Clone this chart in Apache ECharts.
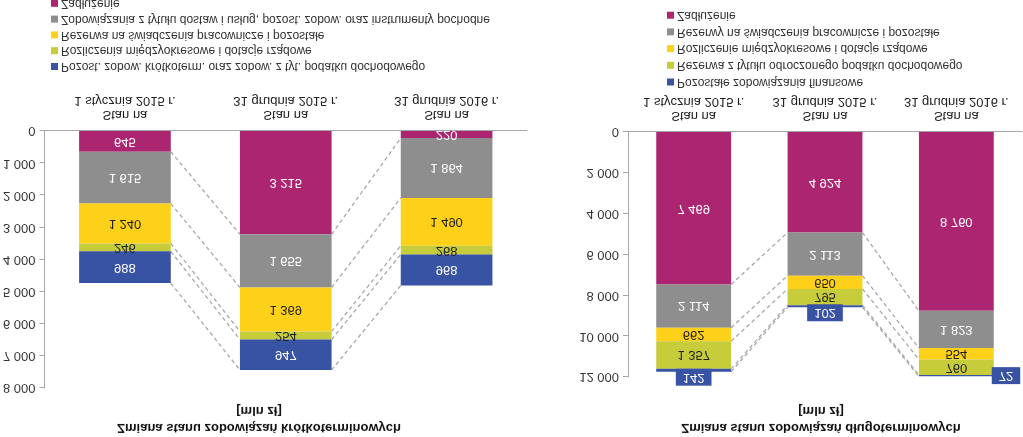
<!DOCTYPE html>
<html>
<head>
<meta charset="utf-8">
<script src="https://cdn.jsdelivr.net/npm/echarts@6/dist/echarts.min.js"></script>
<style>
  html, body { margin: 0; padding: 0; background: #fff; }
  /* the reference picture is flipped upside down, so the whole chart is flipped too */
  #chart { width: 1023px; height: 437px; transform: scaleY(-1); }
</style>
</head>
<body>
<div id="chart"></div>
<script>
// categories (same for both charts)
const categories = ['Stan na\n1 stycznia 2015 r.', 'Stan na\n31 grudnia 2015 r.', 'Stan na\n31 grudnia 2016 r.']

// short-term liabilities [mln zł]
const shortNames = [
  'Zadłużenie',
  'Zobowiązania z tytułu dostaw i usług, pozost. zobow. oraz instrumenty pochodne',
  'Rezerwa na świadczenia pracownicze i pozostałe',
  'Rozliczenia międzyokresowe i dotacje rządowe',
  'Pozost. zobow. krótkoterm. oraz zobow. z tyt. podatku dochodowego'
]
const shortDebt = [645, 3215, 220]
const shortTrade = [1615, 1655, 1864]
const shortReserve = [1240, 1369, 1490]
const shortAccruals = [246, 254, 268]
const shortOther = [988, 947, 968]

// long-term liabilities [mln zł]
const longNames = [
  'Zadłużenie',
  'Rezerwy na świadczenia pracownicze i pozostałe',
  'Rozliczenie międzyokresowe i dotacje rządowe',
  'Rezerwa z tytułu odroczonego podatku dochodowego',
  'Pozostałe zobowiązania finansowe'
]
const longDebt = [7469, 4924, 8760]
const longReserve = [2114, 2113, 1823]
const longAccruals = [662, 650, 554]
const longTax = [1357, 795, 760]
const longOther = [142, 102, 72]

const colors = ['#ab2570', '#8e8e8e', '#fdd01a', '#c6cc3a', '#3953a4']
const labelColors = ['#fff', '#fff', '#222', '#222', '#fff']

const fmt = v => String(v).replace(/\B(?=(\d{3})+(?!\d))/g, ' ')

// dashed connectors between bars at every stack boundary
function connectorData (groups) {
  const out = []
  const cum = categories.map(() => 0)
  groups.forEach(g => {
    g.forEach((v, i) => { cum[i] += v })
    for (let i = 0; i < categories.length - 1; i++) out.push([i, cum[i], cum[i + 1]])
  })
  return out
}

function renderConnector (params, api) {
  const i = api.value(0)
  const p1 = api.coord([i, api.value(1)])
  const p2 = api.coord([i + 1, api.value(2)])
  const half = api.size([1, 0])[0] * 0.57 / 2
  return {
    type: 'line',
    silent: true,
    shape: { x1: p1[0] + half, y1: p1[1], x2: p2[0] - half, y2: p2[1] },
    style: { stroke: '#a8a8a8', lineDash: [4, 3], lineWidth: 1.3 }
  }
}

function barSeries (names, groups, axis, stack, outsideLabels) {
  return groups.map((g, k) => ({
    name: names[k],
    type: 'bar',
    stack: stack,
    xAxisIndex: axis,
    yAxisIndex: axis,
    barWidth: '57%',
    itemStyle: { color: colors[k] },
    label: {
      show: true,
      position: 'inside',
      color: labelColors[k],
      fontSize: 13,
      formatter: p => fmt(p.value)
    },
    data: g.map((v, i) => {
      if (outsideLabels && k === 4) {
        return {
          value: v,
          label: {
            position: i === 2 ? 'right' : 'top',
            distance: i === 2 ? -2 : -3,
            backgroundColor: colors[4],
            padding: [2, 7],
            color: '#fff'
          }
        }
      }
      return v
    })
  }))
}

const shortGroups = [shortDebt, shortTrade, shortReserve, shortAccruals, shortOther]
const longGroups = [longDebt, longReserve, longAccruals, longTax, longOther]

const chart = echarts.init(document.getElementById('chart'))

const axisLine = { lineStyle: { color: '#a6a6a6' } }
const option = {
  animation: false,
  textStyle: { fontFamily: 'Liberation Sans, Arial, sans-serif' },
  title: [
    {
      text: 'Zmiana stanu zobowiązań krótkoterminowych',
      subtext: '[mln zł]',
      left: 254,
      top: -2,
      textAlign: 'center',
      itemGap: 4,
      textStyle: { fontSize: 13, fontWeight: 'bold', color: '#111' },
      subtextStyle: { fontSize: 13, fontWeight: 'bold', color: '#111' }
    },
    {
      text: 'Zmiana stanu zobowiązań długoterminowych',
      subtext: '[mln zł]',
      left: 816,
      top: -2,
      textAlign: 'center',
      itemGap: 4,
      textStyle: { fontSize: 13, fontWeight: 'bold', color: '#111' },
      subtextStyle: { fontSize: 13, fontWeight: 'bold', color: '#111' }
    }
  ],
  legend: [
    {
      orient: 'vertical',
      left: 46,
      top: 359.5,
      height: 120,
      itemWidth: 7,
      itemHeight: 7,
      itemGap: 3.8,
      icon: 'rect',
      data: shortNames.slice().reverse(),
      textStyle: { fontSize: 12, lineHeight: 12, color: '#333', padding: [0, 0, 0, -2] }
    },
    {
      orient: 'vertical',
      left: 662,
      top: 344,
      height: 120,
      itemWidth: 7,
      itemHeight: 7,
      itemGap: 4.7,
      icon: 'rect',
      data: longNames.slice().reverse(),
      textStyle: { fontSize: 12, lineHeight: 12, color: '#333', padding: [0, 0, 0, -2] }
    }
  ],
  grid: [
    { left: 44, top: 49, width: 483, height: 257 },
    { left: 628, top: 60, width: 394, height: 245 }
  ],
  xAxis: [0, 1].map(i => ({
    type: 'category',
    gridIndex: i,
    data: categories,
    axisLine: axisLine,
    axisTick: { lineStyle: { color: '#a6a6a6' }, length: 5 },
    axisLabel: { fontSize: 13, color: '#222', lineHeight: 14, margin: 9, interval: 0 }
  })),
  yAxis: [
    {
      type: 'value',
      gridIndex: 0,
      min: 0,
      max: 8000,
      interval: 1000,
      splitLine: { show: false },
      axisLine: { show: true, lineStyle: { color: '#a6a6a6' } },
      axisTick: { show: true, length: 5, lineStyle: { color: '#a6a6a6' } },
      axisLabel: { fontSize: 13, color: '#333', margin: 9, formatter: fmt }
    },
    {
      type: 'value',
      gridIndex: 1,
      min: 0,
      max: 12000,
      interval: 2000,
      splitLine: { show: false },
      axisLine: { show: true, lineStyle: { color: '#a6a6a6' } },
      axisTick: { show: true, length: 5, lineStyle: { color: '#a6a6a6' } },
      axisLabel: { fontSize: 13, color: '#333', margin: 9, formatter: fmt }
    }
  ],
  series: [
    {
      type: 'custom',
      xAxisIndex: 0,
      yAxisIndex: 0,
      renderItem: renderConnector,
      encode: { x: 0, y: 1 },
      data: connectorData(shortGroups),
      z: 1
    },
    {
      type: 'custom',
      xAxisIndex: 1,
      yAxisIndex: 1,
      renderItem: renderConnector,
      encode: { x: 0, y: 1 },
      data: connectorData(longGroups),
      z: 1
    }
  ]
    .concat(barSeries(shortNames, shortGroups, 0, 'short', false))
    .concat(barSeries(longNames, longGroups, 1, 'long', true))
}

chart.setOption(option)
</script>
</body>
</html>
